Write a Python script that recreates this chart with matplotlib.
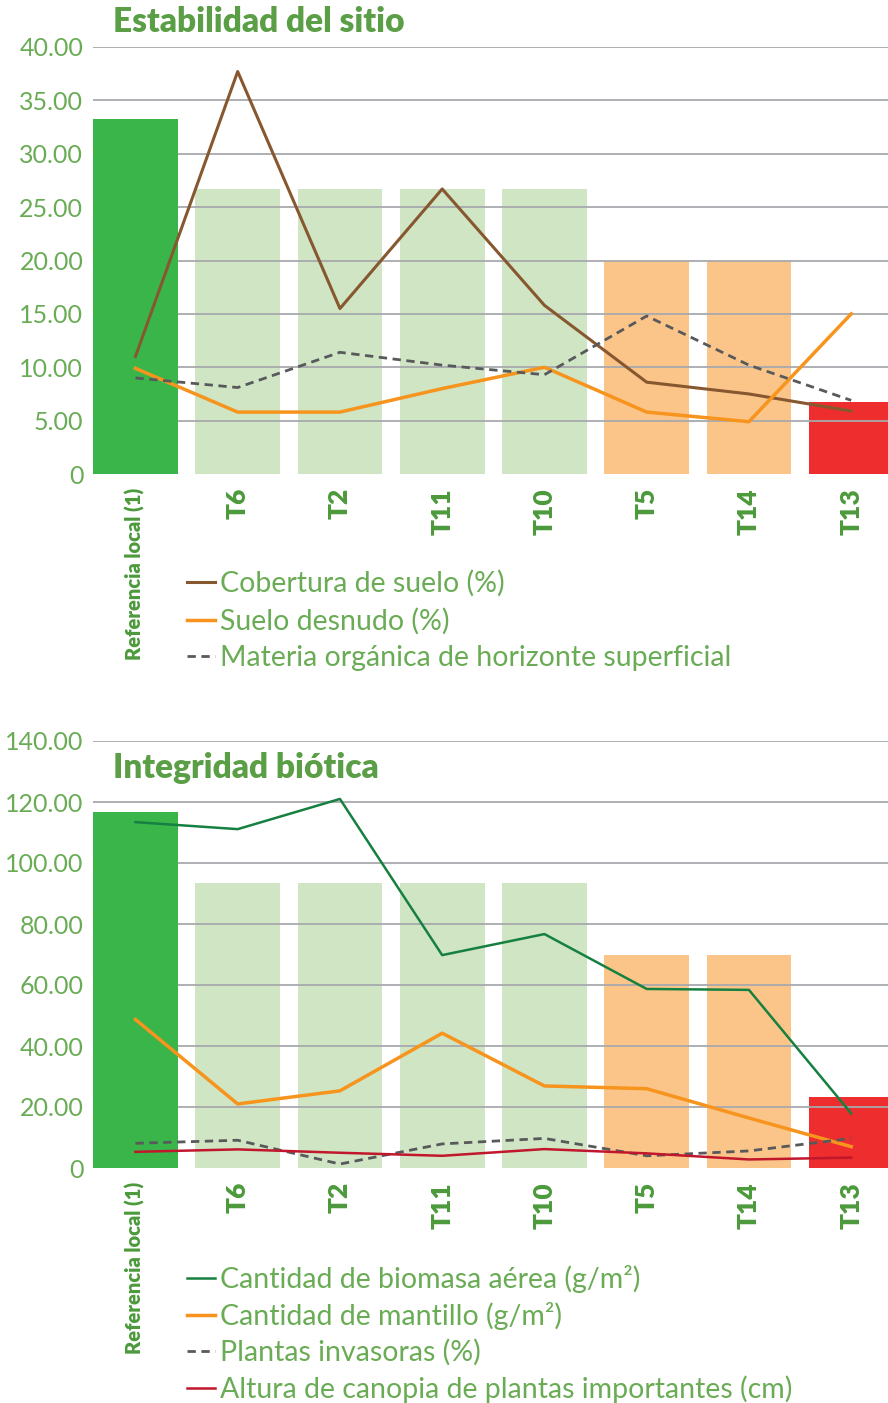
import matplotlib.pyplot as plt
from matplotlib.ticker import FuncFormatter

plt.rcParams['font.family'] = ['Lato', 'DejaVu Sans']

categorias = ['Referencia local (1)', 'T6', 'T2', 'T11', 'T10', 'T5', 'T14', 'T13']
estado = ['ref', 'bien', 'bien', 'bien', 'bien', 'medio', 'medio', 'malo']

# Estabilidad del sitio
barras_estab = [33.3, 26.7, 26.7, 26.7, 26.7, 20.0, 20.0, 6.7]
cobertura = [11.0, 37.7, 15.5, 26.7, 15.8, 8.6, 7.5, 5.9]
suelo_desnudo = [9.9, 5.8, 5.8, 8.0, 10.0, 5.8, 4.9, 15.0]
materia_org = [9.0, 8.1, 11.4, 10.2, 9.3, 14.8, 10.2, 6.9]

# Integridad biotica
barras_integ = [116.7, 93.3, 93.3, 93.3, 93.3, 70.0, 70.0, 23.3]
biomasa = [113.4, 111.1, 121.0, 69.8, 76.7, 58.7, 58.4, 17.9]
mantillo = [48.7, 21.0, 25.3, 44.2, 26.9, 26.0, 16.4, 7.0]
invasoras = [8.1, 9.1, 1.3, 7.9, 9.7, 4.0, 5.6, 9.7]
altura = [5.3, 6.1, 5.0, 4.0, 6.2, 4.8, 2.8, 3.4]

col_barra = {'ref': '#3ab54a', 'bien': '#cfe5c4', 'medio': '#fbc589', 'malo': '#ee2e2e'}
verde_txt = '#6aac55'
verde_tit = '#5a9e46'
gris_grid = '#a7a9ac'

W, H = 888, 1403
fig = plt.figure(figsize=(W / 100, H / 100), dpi=100)


def fmt(v, pos):
    return '0' if v == 0 else '%.2f' % v


def panel(top_px, ymax, paso, barras, series, leg_top_px, leg_sp):
    ax = fig.add_axes([93 / W, 1 - (top_px + 427) / H, (W - 93) / W, 427 / H])
    x = range(len(categorias))
    for i in x:
        z = 3 if estado[i] == 'ref' else 1
        ax.bar(i, barras[i], width=0.83, color=col_barra[estado[i]], zorder=z)
    for k in range(1, int(ymax / paso) + 1):
        ax.axhline(k * paso, color=gris_grid, lw=1.3, zorder=2)
    for vals, color, lw, ls, lab in series:
        ax.plot(list(x), vals, color=color, lw=lw, linestyle=ls, label=lab, zorder=5)
    ax.set_ylim(0, ymax)
    ax.set_xlim(-0.415, 7.36)
    ax.set_yticks([k * paso for k in range(int(ymax / paso) + 1)])
    ax.yaxis.set_major_formatter(FuncFormatter(fmt))
    ax.tick_params(axis='y', length=0, pad=7, labelsize=18, labelcolor=verde_txt)
    ax.set_xticks(list(x))
    ax.set_xticklabels(categorias, rotation=90, fontweight='heavy', color='#4c9a3c', va='top')
    ax.tick_params(axis='x', length=0, pad=10)
    for i, t in enumerate(ax.get_xticklabels()):
        t.set_fontsize(14.5 if i == 0 else 19)
    for s in ax.spines.values():
        s.set_visible(False)
    leg = ax.legend(loc='upper left', bbox_to_anchor=(187 / W, 1 - leg_top_px / H),
                    bbox_transform=fig.transFigure, frameon=False, fontsize=20.5,
                    handlelength=1.0, handletextpad=0.15, labelspacing=leg_sp,
                    borderpad=0, borderaxespad=0)
    for t in leg.get_texts():
        t.set_color(verde_txt)
    return ax


dash = (0, (3, 2))
panel(47, 40, 5, barras_estab, [
    (cobertura, '#87582f', 2.2, '-', 'Cobertura de suelo (%)'),
    (suelo_desnudo, '#f7941d', 2.5, '-', 'Suelo desnudo (%)'),
    (materia_org, '#58595b', 2.0, dash, 'Materia orgánica de horizonte superficial'),
], 570, 0.38)

panel(741, 140, 20, barras_integ, [
    (biomasa, '#168040', 1.8, '-', 'Cantidad de biomasa aérea (g/m²)'),
    (mantillo, '#f7941d', 2.5, '-', 'Cantidad de mantillo (g/m²)'),
    (invasoras, '#58595b', 2.0, dash, 'Plantas invasoras (%)'),
    (altura, '#c1172c', 1.8, '-', 'Altura de canopia de plantas importantes (cm)'),
], 1265, 0.32)

fig.text(113 / W, 1 - 22 / H, 'Estabilidad del sitio', fontsize=24, fontweight='heavy',
         color=verde_tit, va='center', ha='left')
fig.text(113 / W, 1 - 768 / H, 'Integridad biótica', fontsize=24, fontweight='heavy',
         color=verde_tit, va='center', ha='left')

fig.savefig('out.png', dpi=100)
